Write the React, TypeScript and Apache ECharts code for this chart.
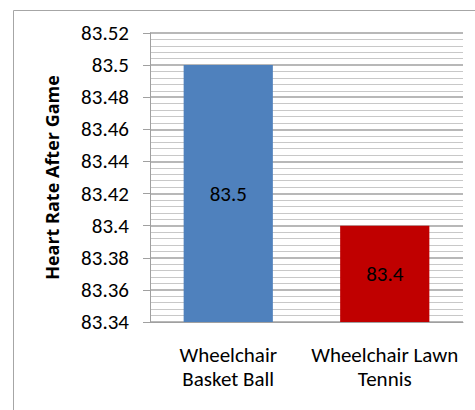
import React, { useEffect, useRef } from "react";
import * as echarts from "echarts";

const categories = ["Wheelchair\nBasket Ball", "Wheelchair Lawn\nTennis"];
const values = [83.5, 83.4];
const barColors = ["#4F81BD", "#C00000"];
const yMin = 83.34;
const yMax = 83.52;
const yStep = 0.02;
const yAxisTitle = "Heart Rate After Game";

const FONT = "Carlito, Lato, sans-serif";

export default function App() {
  const ref = useRef<HTMLDivElement>(null);
  useEffect(() => {
    if (!ref.current) return;
    const chart = echarts.init(ref.current, undefined, { renderer: "svg" });
    chart.setOption({
      animation: false,
      backgroundColor: "#ffffff",
      textStyle: { fontFamily: FONT },
      graphic: [
        {
          type: "rect",
          shape: { x: 13.5, y: 10.5, width: 500, height: 500 },
          style: { fill: "none", stroke: "#a6a6a6", lineWidth: 1 },
          silent: true,
          z: -1,
        },
      ],
      grid: { left: 150, top: 33, right: 12, bottom: 88 },
      xAxis: {
        type: "category",
        data: categories,
        axisLine: { show: true, lineStyle: { color: "#a0a0a0", width: 1 } },
        axisTick: { show: false },
        axisLabel: {
          color: "#000",
          fontSize: 21,
          lineHeight: 24,
          margin: 21,
          fontFamily: FONT,
          interval: 0,
        },
      },
      yAxis: {
        type: "value",
        min: yMin,
        max: yMax,
        interval: yStep,
        name: yAxisTitle,
        nameLocation: "middle",
        nameRotate: 90,
        nameGap: 89,
        nameTextStyle: { color: "#000", fontSize: 18, fontWeight: "bold", fontFamily: "'Open Sans', sans-serif" },
        axisLine: { show: true, lineStyle: { color: "#a0a0a0", width: 1 } },
        axisTick: { show: true, inside: false, length: 7, lineStyle: { color: "#a0a0a0" } },
        minorTick: { show: false, splitNumber: 5 },
        splitLine: { show: true, lineStyle: { color: "#a0a0a0", width: 1.5 } },
        minorSplitLine: { show: true, lineStyle: { color: "#c8c8c8", width: 1 } },
        axisLabel: {
          color: "#000",
          fontSize: 21,
          margin: 21,
          fontFamily: FONT,
          formatter: (v: number) => String(parseFloat(v.toFixed(2))),
        },
      },
      series: [
        {
          type: "bar",
          barWidth: "57%",
          data: values.map((v, i) => ({ value: v, itemStyle: { color: barColors[i] } })),
          label: {
            show: true,
            position: "inside",
            color: "#000",
            fontSize: 21,
            fontFamily: FONT,
            formatter: (p: any) => String(p.value),
          },
        },
      ],
    });
    return () => chart.dispose();
  }, []);
  return (
    <div
      ref={ref}
      style={{ position: "absolute", left: 0, top: 0, width: 475, height: 410 }}
    />
  );
}
